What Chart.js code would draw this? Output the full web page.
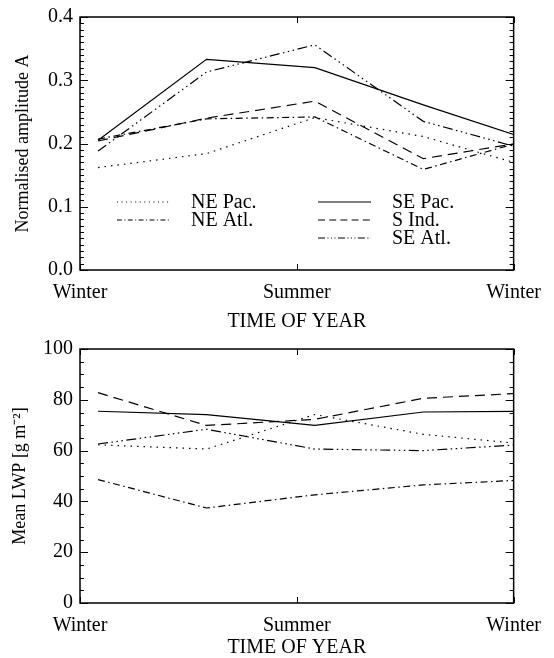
<!DOCTYPE html>
<html>
<head>
<meta charset="utf-8">
<script src="https://cdn.jsdelivr.net/npm/chart.js@4.4.1/dist/chart.umd.min.js"></script>
<style>
body { margin: 0; background: #fff; }
canvas { display: block; }
</style>
</head>
<body>
<canvas id="g1" width="554" height="332"></canvas>
<canvas id="g2" width="554" height="326"></canvas>
<script>
// seasons plotted at mid-month of Jan, Apr, Jul, Oct, Jan (cycle repeats)
var months = [0.5, 3.5, 6.5, 9.5, 12.5];
var seriesNames = ['NE Pac.', 'NE Atl.', 'SE Pac.', 'S Ind.', 'SE Atl.'];
var xTickValues = [0, 6, 12];
var xTickLabels = ['Winter', 'Summer', 'Winter'];

// normalised amplitude A
var ampNEPac = [0.162, 0.184, 0.241, 0.211, 0.162];
var ampNEAtl = [0.207, 0.239, 0.242, 0.159, 0.207];
var ampSEPac = [0.205, 0.333, 0.320, 0.261, 0.205];
var ampSInd  = [0.204, 0.240, 0.267, 0.176, 0.204];
var ampSEAtl = [0.188, 0.313, 0.356, 0.235, 0.188];

// mean LWP [g m-2]
var lwpNEPac = [62.3, 60.6, 74.2, 66.4, 62.3];
var lwpNEAtl = [48.6, 37.4, 42.6, 46.5, 48.6];
var lwpSEPac = [75.5, 74.2, 69.9, 75.2, 75.5];
var lwpSInd  = [82.8, 69.9, 72.3, 80.6, 82.8];
var lwpSEAtl = [62.6, 68.4, 60.6, 60.0, 62.6];

var dashes = [[1.5, 5], [7, 3.5, 1.5, 3.5], [], [10, 6], [10, 3.5, 1.5, 3.5, 1.5, 3.5, 1.5, 3.5]];
var legendPos = [[0, 0], [0, 1], [1, 0], [1, 1], [1, 2]];
var serif = '"Liberation Serif", "Times New Roman", serif';

function makeSets(values) {
  return values.map(function (v, i) {
    return {
      label: seriesNames[i],
      data: months.map(function (m, j) { return { x: m, y: v[j] }; }),
      borderColor: '#000',
      borderWidth: 1.2,
      borderDash: dashes[i],
      pointRadius: 0,
      tension: 0,
      fill: false
    };
  });
}

// box round the plot with inward ticks on all four sides
var frame = {
  id: 'frame',
  afterDatasetsDraw: function (chart, args, opts) {
    var c = chart.ctx, a = chart.chartArea, x = chart.scales.x, y = chart.scales.y;
    var n = Math.round((y.max - y.min) / opts.minor);
    var every = Math.round(opts.major / opts.minor);
    c.save();
    c.strokeStyle = '#000';
    c.lineWidth = 1;
    c.beginPath();
    for (var i = 0; i <= n; i++) {
      var p = Math.round(y.getPixelForValue(y.min + i * opts.minor)) + 0.5;
      var len = (i % every === 0) ? 8 : 4;
      c.moveTo(a.left, p); c.lineTo(a.left + len, p);
      c.moveTo(a.right, p); c.lineTo(a.right - len, p);
    }
    xTickValues.forEach(function (v) {
      var q = Math.round(x.getPixelForValue(v)) + 0.5;
      c.moveTo(q, a.top); c.lineTo(q, a.top + 6);
      c.moveTo(q, a.bottom); c.lineTo(q, a.bottom - 6);
    });
    c.stroke();
    c.lineWidth = 1.5;
    c.strokeRect(a.left, a.top, a.right - a.left, a.bottom - a.top);
    c.restore();
  }
};

// two-column legend inside the upper panel
var boxLegend = {
  id: 'boxLegend',
  afterDraw: function (chart) {
    var c = chart.ctx, a = chart.chartArea;
    c.save();
    c.font = '20px ' + serif;
    c.fillStyle = '#000';
    c.strokeStyle = '#000';
    c.textBaseline = 'middle';
    chart.data.datasets.forEach(function (ds, i) {
      var x0 = a.left + 37 + legendPos[i][0] * 201;
      var y0 = a.top + 185 + legendPos[i][1] * 18;
      c.lineWidth = 1.2;
      c.setLineDash(ds.borderDash.map(function (d) { return d * 0.7; }));
      c.beginPath();
      c.moveTo(x0, y0);
      c.lineTo(x0 + 53, y0);
      c.stroke();
      c.setLineDash([]);
      c.fillText(ds.label, x0 + 74, y0 + 1);
    });
    c.restore();
  }
};

function makeOptions(yMin, yMax, step, digits, yTitle, yTitlePad, xHeight, padTop) {
  return {
    responsive: false,
    animation: false,
    devicePixelRatio: 1,
    layout: { padding: { top: padTop, right: 35, left: 0, bottom: 0 } },
    plugins: {
      legend: { display: false },
      tooltip: { enabled: false },
      frame: { major: step, minor: step / (digits ? 10 : 4) }
    },
    scales: {
      x: {
        type: 'linear',
        min: 0,
        max: 12,
        afterBuildTicks: function (s) {
          s.ticks = xTickValues.map(function (v) { return { value: v }; });
        },
        afterFit: function (s) { s.height = xHeight; },
        grid: { display: false, drawTicks: false },
        border: { display: false },
        ticks: {
          autoSkip: false,
          maxRotation: 0,
          padding: 13,
          color: '#000',
          font: { family: serif, size: 20, lineHeight: 1 },
          callback: function (v, i) { return xTickLabels[i]; }
        },
        title: {
          display: true,
          text: 'TIME OF YEAR',
          color: '#000',
          padding: 0,
          font: { family: serif, size: 20, lineHeight: 1 }
        }
      },
      y: {
        min: yMin,
        max: yMax,
        afterFit: function (s) { s.width = 80; },
        grid: { display: false, drawTicks: false },
        border: { display: false },
        ticks: {
          stepSize: step,
          padding: 7,
          color: '#000',
          font: { family: serif, size: 20, lineHeight: 1 },
          callback: function (v) { return v.toFixed(digits); }
        },
        title: {
          display: true,
          text: yTitle,
          color: '#000',
          padding: { top: yTitlePad, bottom: 0 },
          font: { family: serif, size: 18, lineHeight: 1 }
        }
      }
    }
  };
}

new Chart(document.getElementById('g1').getContext('2d'), {
  type: 'line',
  data: { datasets: makeSets([ampNEPac, ampNEAtl, ampSEPac, ampSInd, ampSEAtl]) },
  options: makeOptions(0, 0.4, 0.1, 1, 'Normalised amplitude A', 14, 62, 14),
  plugins: [frame, boxLegend]
});

new Chart(document.getElementById('g2').getContext('2d'), {
  type: 'line',
  data: { datasets: makeSets([lwpNEPac, lwpNEAtl, lwpSEPac, lwpSInd, lwpSEAtl]) },
  options: makeOptions(0, 100, 20, 0, 'Mean LWP [g m\u207B\u00B2]', 11, 55, 12),
  plugins: [frame]
});
</script>
</body>
</html>
